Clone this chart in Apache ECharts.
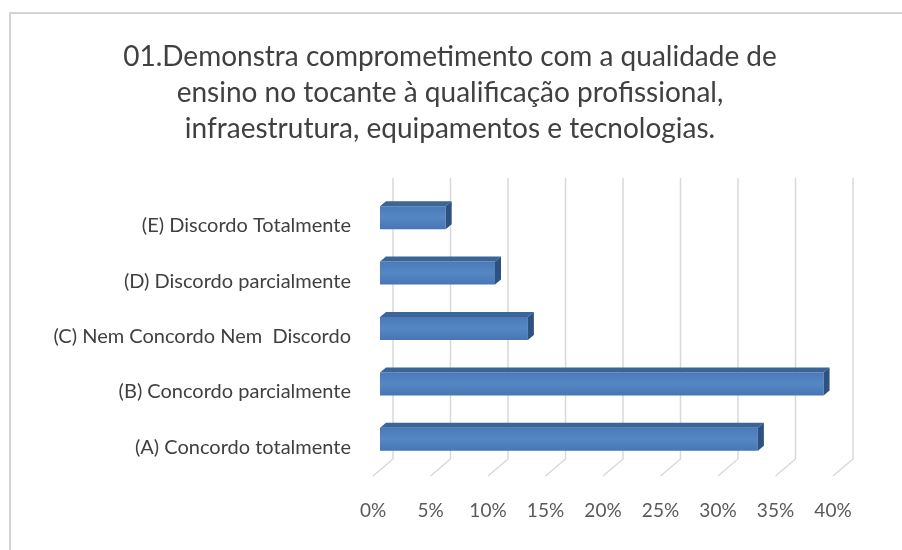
<!DOCTYPE html>
<html>
<head>
<meta charset="utf-8">
<script src="https://cdn.jsdelivr.net/npm/echarts@6/dist/echarts.min.js"></script>
<style>
	html, body { margin: 0; padding: 0; background: #fff; }
	#chart { width: 902px; height: 550px; }
</style>
</head>
<body>
<div id="chart"></div>
<script>
// categories bottom to top
const categories = [
	"(A) Concordo totalmente",
	"(B) Concordo parcialmente",
	"(C) Nem Concordo Nem  Discordo",
	"(D) Discordo parcialmente",
	"(E) Discordo Totalmente",
];
const percentages = [32.86, 38.57, 12.86, 10.0, 5.71];
const ticks = [0, 5, 10, 15, 20, 25, 30, 35, 40];
const titleText = "01.Demonstra comprometimento com a qualidade de\nensino no tocante à qualificação profissional,\ninfraestrutura, equipamentos e tecnologias.";

const FONT = "Lato";
const chart = echarts.init(document.getElementById("chart"));

// depth offsets for the fake 3D look
const BAR_DX = 7, BAR_DY = -5, BAR_H = 23, BAR_SHIFT = -8;
const WALL_DX = 20, WALL_TOP = -20, WALL_BOTTOM = -16;

function renderGrid(params, api) {
	const cs = params.coordSys;
	const x = api.coord([api.value(0), 0])[0];
	const top = cs.y + WALL_TOP;
	const back = cs.y + cs.height + WALL_BOTTOM;
	const front = cs.y + cs.height + 1;
	return {
		type: "polyline",
		shape: { points: [[x + WALL_DX, top], [x + WALL_DX, back], [x, front]] },
		style: { stroke: "#d9d9d9", lineWidth: 1.5, fill: null },
		silent: true,
	};
}

function renderBar(params, api) {
	const v = api.value(0);
	const idx = api.value(1);
	const x0 = api.coord([0, idx])[0] + BAR_DX;
	const x1 = api.coord([v, idx])[0] + BAR_DX;
	const cy = api.coord([v, idx])[1] + BAR_SHIFT;
	const yt = cy - BAR_H / 2, yb = cy + BAR_H / 2;
	return {
		type: "group",
		children: [
			{
				type: "rect",
				shape: { x: x0, y: yt, width: x1 - x0, height: BAR_H },
				style: {
					fill: new echarts.graphic.LinearGradient(0, 0, 0, 1, [
						{ offset: 0, color: "#4a7bb8" },
						{ offset: 0.5, color: "#5587c4" },
						{ offset: 1, color: "#4676b3" },
					]),
				},
			},
			{
				type: "polygon",
				shape: { points: [[x0, yt], [x1, yt], [x1 + 6, yt + BAR_DY], [x0 + 6, yt + BAR_DY]] },
				style: { fill: "#3a6597" },
			},
			{
				type: "polygon",
				shape: { points: [[x1, yt], [x1 + 6, yt + BAR_DY], [x1 + 6, yb + BAR_DY], [x1, yb]] },
				style: { fill: "#2d5280" },
			},
		],
	};
}

chart.setOption({
	animation: false,
	textStyle: { fontFamily: FONT },
	graphic: [
		{
			type: "rect",
			shape: { x: 10, y: 13, width: 920, height: 560 },
			style: { fill: null, stroke: "#d4d4d4", lineWidth: 2 },
			silent: true,
		},
	],
	title: {
		text: titleText,
		left: 445,
		top: 34,
		textAlign: "center",
		textStyle: { fontFamily: FONT, fontSize: 28, fontWeight: "normal", color: "#404040", lineHeight: 36 },
	},
	grid: { left: 373, top: 198, width: 460, height: 277 },
	xAxis: {
		type: "value",
		min: 0,
		max: 40,
		interval: 5,
		axisLine: { show: false },
		axisTick: { show: false },
		splitLine: { show: false },
		axisLabel: { formatter: "{value}%", color: "#595959", fontSize: 19, margin: 26, fontFamily: FONT },
	},
	yAxis: {
		type: "category",
		data: categories,
		axisLine: { show: false },
		axisTick: { show: false },
		axisLabel: { color: "#404040", fontSize: 20, margin: 22, fontFamily: FONT },
	},
	series: [
		{
			type: "custom",
			renderItem: renderGrid,
			data: ticks.map((t) => [t, 0]),
			encode: { x: 0, y: 1 },
			silent: true,
			z: 1,
		},
		{
			type: "custom",
			renderItem: renderBar,
			data: percentages.map((p, i) => [p, i]),
			encode: { x: 0, y: 1 },
			z: 2,
		},
	],
});
</script>
</body>
</html>
